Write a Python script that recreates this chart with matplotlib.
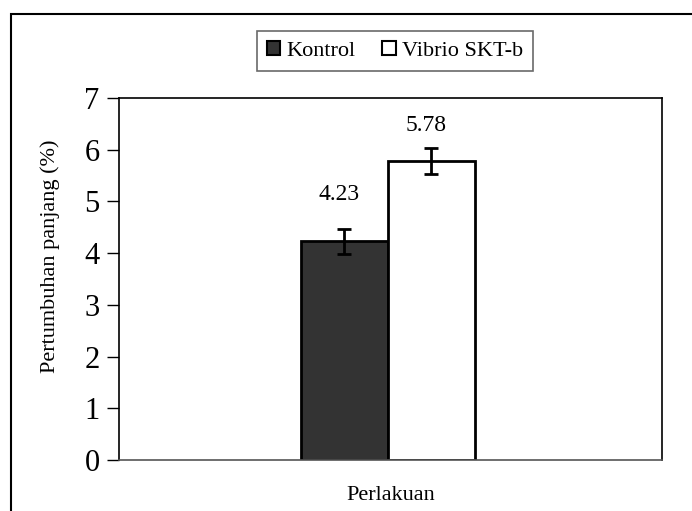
import matplotlib.pyplot as plt
from matplotlib.patches import Rectangle

# data
groups = ['Kontrol', 'Vibrio SKT-b']
values = [4.23, 5.78]
errors = [0.24, 0.25]
colors = ['#333333', '#ffffff']
yticks = [0, 1, 2, 3, 4, 5, 6, 7]

plt.rcParams['font.family'] = ['Liberation Serif', 'DejaVu Serif']

fig = plt.figure(figsize=(6.92, 5.11), dpi=100)
ax = fig.add_axes([119 / 692, 1 - 460 / 511, 543 / 692, 362 / 511])

width = 0.32
offsets = [-width / 2, width / 2]
label_gap = [0.9, 0.68]  # distance of value label above bar top
for g, v, e, c, off, gap in zip(groups, values, errors, colors, offsets, label_gap):
    ax.bar(off, v, width=width, color=c, edgecolor='black', linewidth=2,
           label=g, zorder=2)
    ax.errorbar(off, v, yerr=e, fmt='none', ecolor='black', elinewidth=2,
                capsize=5, capthick=2, zorder=3)
    ax.text(off - 0.02, v + gap, f'{v:.2f}', ha='center', va='center',
            fontsize=17)

ax.set_xlim(-0.99, 1.01)
ax.set_ylim(0, 7)
ax.set_yticks(yticks)
ax.set_yticklabels([str(t) for t in yticks], fontsize=22)
ax.set_xticks([])
ax.tick_params(axis='y', direction='out', length=9, width=1, pad=5)
for s in ax.spines.values():
    s.set_linewidth(1.2)
ax.spines['bottom'].set_color('#555555')

ax.set_ylabel('Pertumbuhan panjang (%)', fontsize=16)
ax.yaxis.set_label_coords((60 - 119) / 543, 0.564)
ax.set_xlabel('Perlakuan', fontsize=16, labelpad=19)

leg = fig.legend(loc='center', bbox_to_anchor=(395 / 692, 1 - 51 / 511),
                 ncol=2, fontsize=16, frameon=True, fancybox=False,
                 handlelength=0.6, handleheight=0.6, handletextpad=0.3,
                 columnspacing=1.2, borderpad=0.45)
leg.get_frame().set_edgecolor('#444444')
leg.get_frame().set_linewidth(1.2)
for h in leg.legend_handles:
    h.set_linewidth(1.5)

# outer border
fig.patches.append(Rectangle((11 / 692, -0.1), 1.2, 1.1 - 14 / 511,
                             transform=fig.transFigure, fill=False,
                             edgecolor='black', linewidth=1.5))

fig.savefig('out.png', dpi=100)
